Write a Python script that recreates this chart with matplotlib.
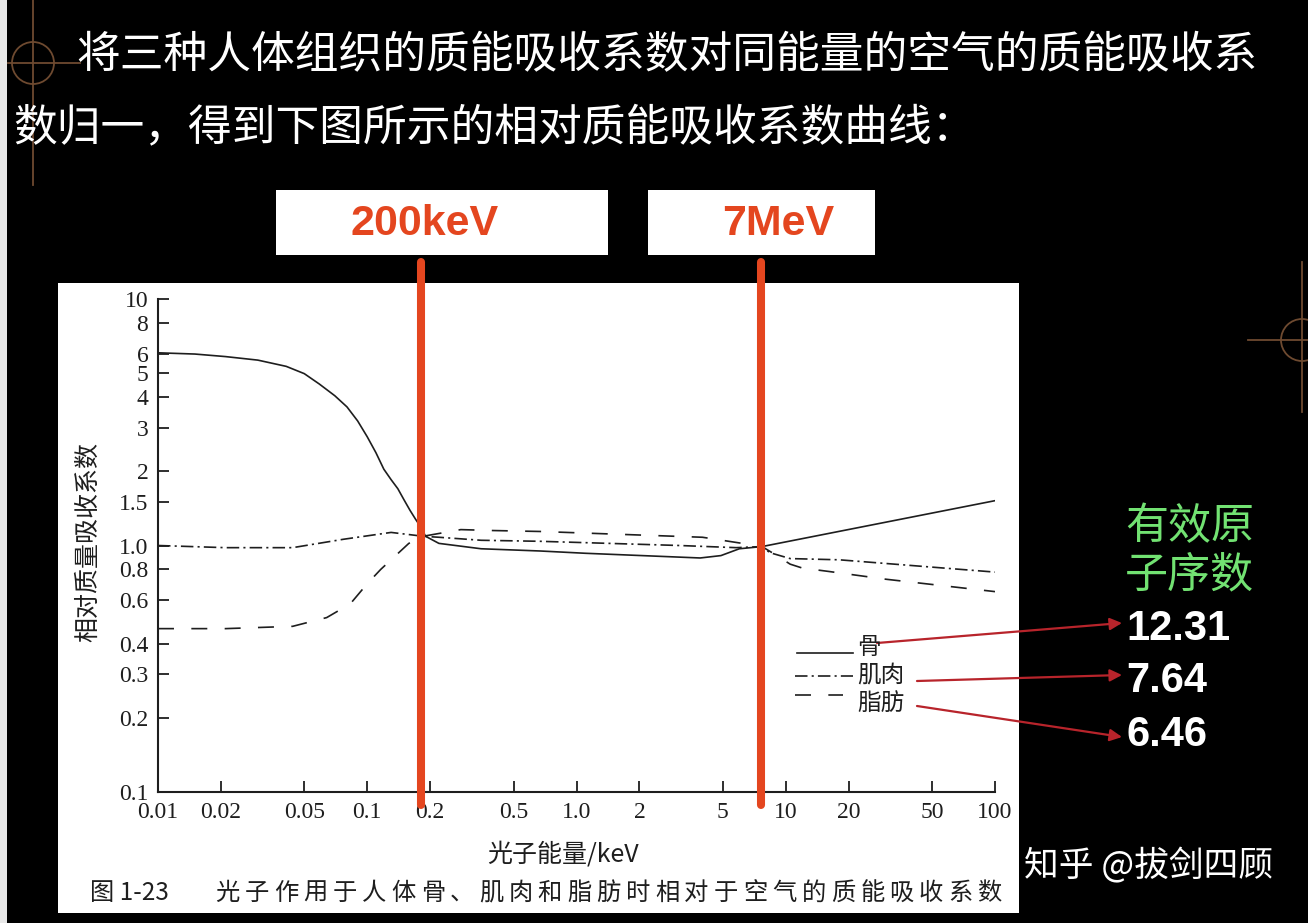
import matplotlib
matplotlib.use("Agg")
import matplotlib.pyplot as plt
from matplotlib.patches import Rectangle, Ellipse, FancyArrowPatch
from matplotlib.lines import Line2D
from matplotlib.ticker import FixedLocator, FixedFormatter, NullLocator

plt.rcParams['font.family'] = ['Liberation Serif', 'Noto Sans CJK SC']
plt.rcParams['lines.scale_dashes'] = False
CJK = ['Noto Sans CJK SC', 'DejaVu Sans']

# ---- data (photon energy, ratio to air) ----
bone_energy = [0.01, 0.015, 0.021, 0.03, 0.041, 0.05, 0.059, 0.07, 0.08, 0.09,
               0.10, 0.11, 0.12, 0.13, 0.14, 0.15, 0.16, 0.17, 0.18, 0.19,
               0.22, 0.35, 0.67, 1.1, 3.9, 4.9, 6.0, 7.7, 100]
bone_ratio = [6.05, 5.98, 5.84, 5.65, 5.33, 4.98, 4.52, 4.05, 3.65, 3.2,
              2.76, 2.38, 2.04, 1.85, 1.70, 1.53, 1.39, 1.28, 1.19, 1.09,
              1.02, 0.97, 0.95, 0.93, 0.89, 0.91, 0.97, 0.99, 1.52]

muscle_energy = [0.01, 0.021, 0.044, 0.077, 0.13, 0.185, 0.22, 0.35, 0.67,
                 3.1, 5.8, 7.7, 8.4, 10.5, 18, 100]
muscle_ratio = [1.0, 0.98, 0.98, 1.06, 1.13, 1.09, 1.08, 1.05, 1.04,
                1.0, 0.98, 0.99, 0.935, 0.885, 0.875, 0.78]

fat_energy = [0.01, 0.021, 0.044, 0.064, 0.083, 0.10, 0.116, 0.158, 0.185,
              0.28, 0.40, 0.67, 1.2, 4.0, 6.2, 7.7, 8.7, 10.5, 12, 16, 30, 100]
fat_ratio = [0.46, 0.46, 0.47, 0.51, 0.58, 0.70, 0.80, 1.02, 1.09,
             1.16, 1.15, 1.14, 1.12, 1.08, 1.02, 0.99, 0.93, 0.84, 0.81,
             0.785, 0.73, 0.65]

series_names = ['骨', '肌肉', '脂肪']
effective_z = ['12.31', '7.64', '6.46']

xtick_values = [0.01, 0.02, 0.05, 0.1, 0.2, 0.5, 1, 2, 5, 10, 20, 50, 100]
xtick_labels = ['0.01', '0.02', '0.05', '0.1', '0.2', '0.5', '1.0', '2', '5',
                '10', '20', '50', '100']
ytick_values = [0.1, 0.2, 0.3, 0.4, 0.6, 0.8, 1, 1.5, 2, 3, 4, 5, 6, 8, 10]
ytick_labels = ['0.1', '0.2', '0.3', '0.4', '0.6', '0.8', '1.0', '1.5', '2',
                '3', '4', '5', '6', '8', '10']

marker_energy = [0.18, 7.6]
marker_labels = ['200keV', '7MeV']

title_lines = ['将三种人体组织的质能吸收系数对同能量的空气的质能吸收系',
               '数归一，得到下图所示的相对质能吸收系数曲线：']
caption_text = '光子作用于人体骨、肌肉和脂肪时相对于空气的质能吸收系数'

# ---- layout helpers (pixel -> figure fraction) ----
W, H = 1308, 923
def fx(x):
    return x / W
def fy(y):
    return 1 - y / H

RED = '#e4461f'
ARROW = '#b8242b'
INK = '#1e1e1e'
DECO = '#6e4a30'

fig = plt.figure(figsize=(13.08, 9.23), dpi=100, facecolor='black')

# slide decorations
fig.add_artist(Rectangle((0, 0), fx(7), 1, transform=fig.transFigure,
                         facecolor='#e8e8e8', edgecolor='none'))
for (x0, y0, x1, y1) in [(33, 0, 33, 185), (8, 63, 80, 63),
                         (1302, 262, 1302, 412), (1248, 340, 1308, 340)]:
    fig.add_artist(Line2D([fx(x0), fx(x1)], [fy(y0), fy(y1)], color=DECO,
                          lw=1.3, transform=fig.transFigure))
for (cx, cy) in [(33, 63), (1302, 340)]:
    fig.add_artist(Ellipse((fx(cx), fy(cy)), 42 / W, 42 / H, fill=False,
                           edgecolor=DECO, lw=1.3, transform=fig.transFigure))

# title
fig.text(fx(76), fy(55), title_lines[0], ha='left', va='center',
         fontsize=31.5, color='white', family=CJK)
fig.text(fx(13), fy(128), title_lines[1], ha='left', va='center',
         fontsize=31.5, color='white', family=CJK)

# white panel of the scanned figure
fig.add_artist(Rectangle((fx(58), fy(913)), (1019 - 58) / W, (913 - 283) / H,
                         transform=fig.transFigure, facecolor='white',
                         edgecolor='none', zorder=0))

ax = fig.add_axes([fx(158), fy(792), (995 - 158) / W, (792 - 299) / H])
ax.set_facecolor('none')
ax.set_xscale('log')
ax.set_yscale('log')
ax.set_xlim(0.01, 100)
ax.set_ylim(0.1, 10)

styles = ['-', (0, (9, 3, 1.5, 3)), (0, (11.5, 12.5))]
series = [(bone_energy, bone_ratio), (muscle_energy, muscle_ratio),
          (fat_energy, fat_ratio)]
for (e, r), ls, name in zip(series, styles, series_names):
    ax.plot(e, r, color=INK, lw=1.2, linestyle=ls, label=name, zorder=3)

ax.xaxis.set_major_locator(FixedLocator(xtick_values))
ax.xaxis.set_major_formatter(FixedFormatter(xtick_labels))
ax.xaxis.set_minor_locator(NullLocator())
ax.yaxis.set_major_locator(FixedLocator(ytick_values))
ax.yaxis.set_major_formatter(FixedFormatter(ytick_labels))
ax.yaxis.set_minor_locator(NullLocator())
ax.tick_params(direction='in', length=8, width=1.3, colors=INK,
               labelsize=17, pad=7)
for s in ['top', 'right']:
    ax.spines[s].set_visible(False)
for s in ['left', 'bottom']:
    ax.spines[s].set_linewidth(1.5)
    ax.spines[s].set_color(INK)

fig.text(fx(88), fy(542), '相对质量吸收系数', rotation=90, ha='center',
         va='center', fontsize=18, color=INK, family=CJK)
fig.text(fx(563), fy(855), '光子能量/keV', ha='center', va='center',
         fontsize=18, color=INK, family=CJK)

# caption, letter spaced
fig.text(fx(90), fy(893), '图 1-23', ha='left', va='center', fontsize=17.5,
         color=INK, family=CJK)
pitch = 29.3
for i, ch in enumerate(caption_text):
    fig.text(fx(213 + pitch * i + pitch / 2), fy(893), ch, ha='center',
             va='center', fontsize=17.5, color=INK, family=CJK)

# legend drawn by hand, as in the scan
legend_rows = [(797, 853, 653, 648), (795, 853, 676, 675), (795, 843, 695, 703)]
for (x0, x1, yl, yt), ls, name in zip(legend_rows, styles, series_names):
    fig.add_artist(Line2D([fx(x0), fx(x1)], [fy(yl), fy(yl)], color=INK,
                          lw=1.2, linestyle=ls, transform=fig.transFigure))
    fig.text(fx(857), fy(yt), name, ha='left', va='center', fontsize=17,
             color=INK, family=CJK)

# red energy markers and their labels
for e in marker_energy:
    ax.plot([e, e], [-0.026, 1.075], transform=ax.get_xaxis_transform(),
            color=RED, lw=5.8, solid_capstyle='round', clip_on=False, zorder=5)
for (bx0, bx1, tx), lab in zip([(276, 608, 425), (648, 875, 778)], marker_labels):
    fig.add_artist(Rectangle((fx(bx0), fy(255)), (bx1 - bx0) / W, 65 / H,
                             transform=fig.transFigure, facecolor='white',
                             edgecolor='none'))
    fig.text(fx(tx), fy(224), lab, ha='center', va='center', fontsize=31,
             fontweight='bold', color=RED, family=['Liberation Sans'])

# effective atomic number
fig.text(fx(1125), fy(527), '有效原', ha='left', va='center', fontsize=31,
         color='#72e272', family=CJK)
fig.text(fx(1125), fy(575), '子序数', ha='left', va='center', fontsize=31,
         color='#72e272', family=CJK)
arrows = [((877, 643), (1122, 623)), ((917, 681), (1122, 675)),
          ((917, 706), (1122, 737))]
for (p0, p1), yv, val in zip(arrows, [629, 681, 735], effective_z):
    fig.add_artist(FancyArrowPatch((fx(p0[0]), fy(p0[1])), (fx(p1[0]), fy(p1[1])),
                                   transform=fig.transFigure, arrowstyle='-|>',
                                   mutation_scale=18, color=ARROW, lw=1.6,
                                   shrinkA=0, shrinkB=0))
    fig.text(fx(1126), fy(yv), val, ha='left', va='center', fontsize=30,
             fontweight='bold', color='white', family=['Liberation Sans'])

# watermark
fig.text(fx(1024), fy(866), '知乎 @拔剑四顾', ha='left', va='center',
         fontsize=25, color='white', family=CJK)

fig.savefig('out.png', dpi=100, facecolor='black')
